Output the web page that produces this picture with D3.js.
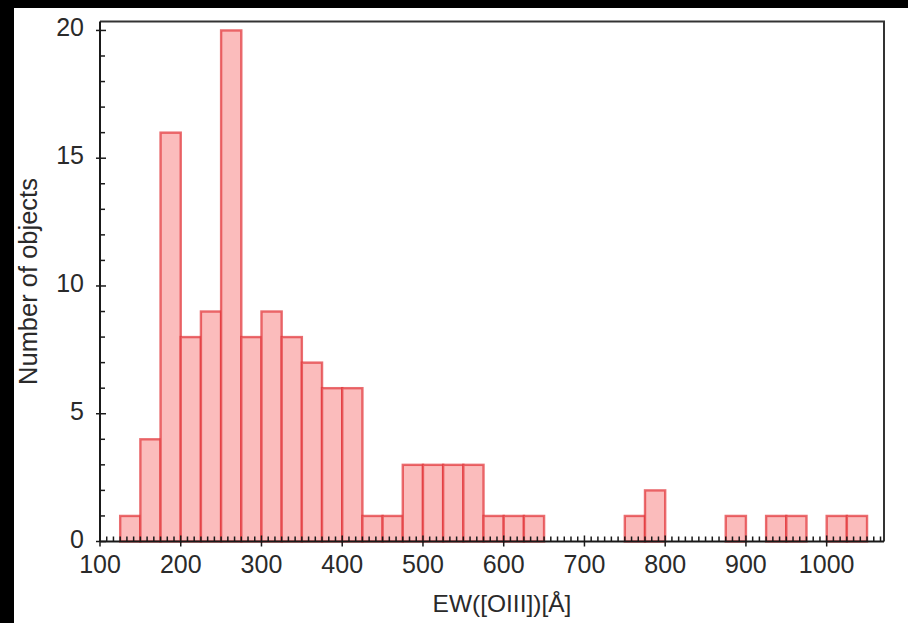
<!DOCTYPE html>
<html>
<head>
<meta charset="utf-8">
<script src="https://cdn.jsdelivr.net/npm/d3@7"></script>
<style>
  html, body { margin: 0; padding: 0; background: #000; }
  svg { display: block; }
  text { font-family: "Liberation Sans", Arial, sans-serif; fill: #2a2a2a; }
</style>
</head>
<body>
<div id="chart"></div>
<script>
// histogram of EW([OIII]), bins 25 A wide (empty bins left out)
const binLo = [125, 150, 175, 200, 225, 250, 275, 300, 325, 350,
               375, 400, 425, 450, 475, 500, 525, 550, 575, 600,
               625, 750, 775, 875, 925, 950, 1000, 1025];
const counts = [1, 4, 16, 8, 9, 20, 8, 9, 8, 7,
                6, 6, 1, 1, 3, 3, 3, 3, 1, 1,
                1, 1, 2, 1, 1, 1, 1, 1];
const binWidth = 25;
const xTicks = [100, 200, 300, 400, 500, 600, 700, 800, 900, 1000];
const yTicks = [0, 5, 10, 15, 20];
const xLabel = 'EW([OIII])[Å]';
const yLabel = 'Number of objects';

const W = 908, H = 623;
const pLeft = 100, pRight = 884, pTop = 21.5, pBottom = 541.5;

const svg = d3.select('#chart').append('svg')
	.attr('width', W)
	.attr('height', H);

svg.append('rect')
	.attr('x', 14).attr('y', 8)
	.attr('width', W - 14).attr('height', H - 8)
	.attr('fill', '#fff');

const x = d3.scaleLinear().domain([100, 1071]).range([pLeft, pRight]);
const y = d3.scaleLinear().domain([0, 20.35]).range([pBottom, pTop]);

// bars
svg.append('g').selectAll('rect')
	.data(binLo)
	.join('rect')
	.attr('x', (d) => x(d))
	.attr('y', (d, i) => y(counts[i]))
	.attr('width', (d) => x(d + binWidth) - x(d))
	.attr('height', (d, i) => y(0) - y(counts[i]))
	.attr('fill', '#fbbcbc')
	.attr('stroke', '#e2363a')
	.attr('stroke-opacity', 0.72)
	.attr('stroke-width', 2.4);

// frame
const axisCol = '#1a1a1a';
svg.append('path')
	.attr('d', `M${pLeft},${pTop}H${pRight}V${pBottom}`)
	.attr('fill', 'none')
	.attr('stroke', '#333')
	.attr('stroke-width', 2);

// y axis
const yMinor = d3.range(0, 21, 1).filter(v => !yTicks.includes(v));
const gy = svg.append('g');
gy.append('line')
	.attr('x1', pLeft).attr('x2', pLeft)
	.attr('y1', pTop).attr('y2', pBottom)
	.attr('stroke', axisCol).attr('stroke-width', 2);
gy.selectAll('line.minor')
	.data(yMinor)
	.join('line')
	.attr('class', 'minor')
	.attr('x1', pLeft).attr('x2', pLeft + 5)
	.attr('y1', d => y(d)).attr('y2', d => y(d))
	.attr('stroke', axisCol).attr('stroke-width', 1.5);
gy.selectAll('line.major')
	.data(yTicks)
	.join('line')
	.attr('class', 'major')
	.attr('x1', pLeft - 4).attr('x2', pLeft + 6)
	.attr('y1', d => y(d)).attr('y2', d => y(d))
	.attr('stroke', axisCol).attr('stroke-width', 1.5);
gy.selectAll('text')
	.data(yTicks)
	.join('text')
	.attr('x', 84)
	.attr('y', d => y(d) + 6)
	.attr('text-anchor', 'end')
	.attr('font-size', 25)
	.text(d => d);

// x axis
const xMinor = d3.range(100, 1071, 100 / 12).filter(v => Math.abs(v % 100) > 0.01 && Math.abs(v % 100 - 100) > 0.01);
const gx = svg.append('g');
gx.append('line')
	.attr('x1', pLeft).attr('x2', pRight)
	.attr('y1', pBottom).attr('y2', pBottom)
	.attr('stroke', axisCol).attr('stroke-width', 2);
gx.selectAll('line.minor')
	.data(xMinor)
	.join('line')
	.attr('class', 'minor')
	.attr('x1', d => x(d)).attr('x2', d => x(d))
	.attr('y1', pBottom).attr('y2', pBottom - 5)
	.attr('stroke', axisCol).attr('stroke-width', 1.5);
gx.selectAll('line.major')
	.data(xTicks)
	.join('line')
	.attr('class', 'major')
	.attr('x1', d => x(d)).attr('x2', d => x(d))
	.attr('y1', pBottom + 5).attr('y2', pBottom - 6)
	.attr('stroke', axisCol).attr('stroke-width', 1.5);
gx.selectAll('text')
	.data(xTicks)
	.join('text')
	.attr('x', d => x(d))
	.attr('y', 573)
	.attr('text-anchor', 'middle')
	.attr('font-size', 25)
	.text(d => d);

// axis titles
svg.append('text')
	.attr('x', 502)
	.attr('y', 612)
	.attr('text-anchor', 'middle')
	.attr('font-size', 24.5)
	.text(xLabel);

svg.append('text')
	.attr('transform', `translate(37,${(pTop + pBottom) / 2}) rotate(-90)`)
	.attr('text-anchor', 'middle')
	.attr('font-size', 25.5)
	.text(yLabel);
</script>
</body>
</html>
